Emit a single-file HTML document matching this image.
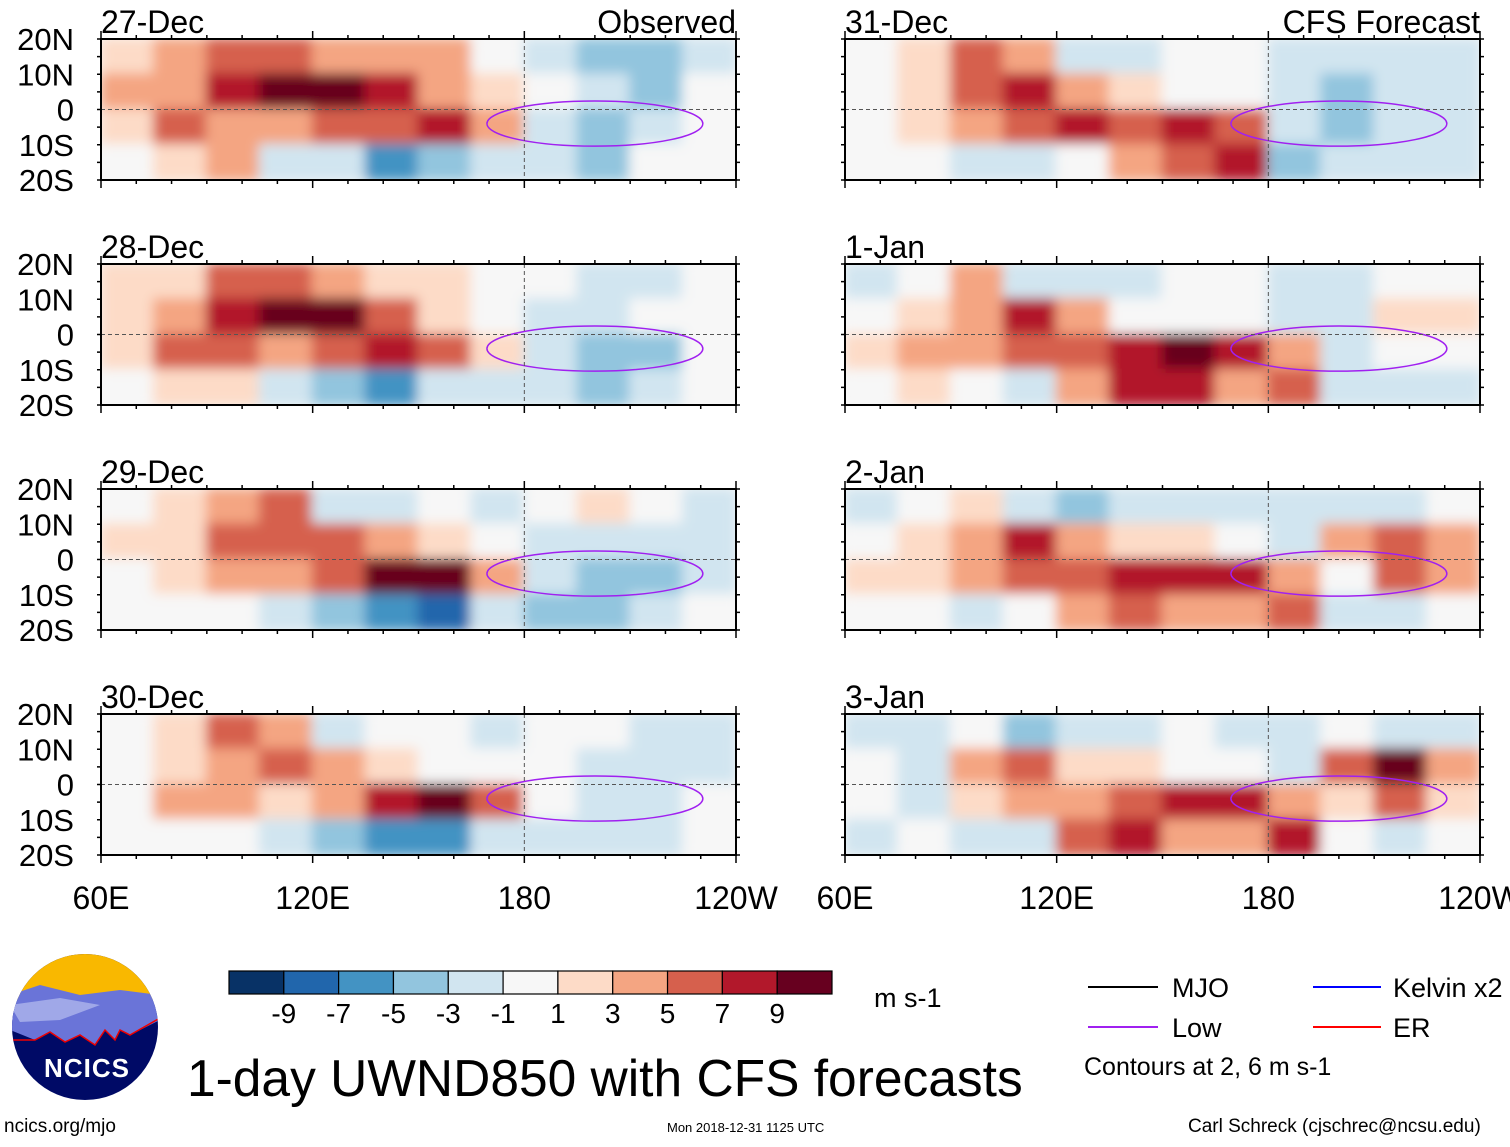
<!DOCTYPE html>
<html><head><meta charset="utf-8">
<style>
body{margin:0;background:#fff;width:1510px;height:1142px;overflow:hidden;font-family:"Liberation Sans",sans-serif}
svg text{font-family:"Liberation Sans",sans-serif}
</style></head>
<body>
<svg id="chart" width="1510" height="1142" viewBox="0 0 1510 1142" xmlns="http://www.w3.org/2000/svg">
<defs>
<filter id="blur" x="-5%" y="-20%" width="110%" height="140%"><feGaussianBlur stdDeviation="6"/></filter>
</defs>
<g id="panels"></g>
<g id="bottom"></g>
</svg>
<script>
const panelDates=["27-Dec","28-Dec","29-Dec","30-Dec","31-Dec","1-Jan","2-Jan","3-Jan"];
const panelCorner=["Observed","","","","CFS Forecast","","",""];
const latTicks=["20N","10N","0","10S","20S"];
const lonTicks=["60E","120E","180","120W"];
const lonCols=[67.5,82.5,97.5,112.5,127.5,142.5,157.5,172.5,187.5,202.5,217.5,232.5];
const latRows=[15,5,-5,-15];
const u27=[[2,3,5,6,4,4,3,-1,-2,-4,-4,-2],[3,4,8,10,10,7,3,1,-1,-3,-4,-1],[2,5,4,3,5,6,7,3,-2,-4,-3,-1],[-1,2,3,-2,-3,-6,-4,-2,-3,-4,-1,0]];
const u28=[[1,2,6,5,3,2,1,-1,-1,-3,-3,-1],[2,3,7,10,9,5,2,-1,-2,-3,-1,-1],[1,5,5,3,6,8,5,1,-3,-5,-4,-1],[0,2,2,-3,-5,-6,-2,-2,-3,-4,-3,-1]];
const u29=[[-1,1,3,5,-3,-2,-1,-3,-1,1,-1,-2],[1,2,5,6,5,3,1,-1,-2,-3,-3,-2],[-1,2,3,3,6,9,9,4,-2,-4,-4,-2],[-1,-1,0,-3,-5,-6,-9,-3,-4,-4,-3,-1]];
const u30=[[-1,1,5,4,-2,-1,-1,-2,-1,-1,-3,-3],[0,2,4,6,3,1,0,-1,-1,-3,-3,-2],[-1,3,3,2,4,8,9,5,-1,-3,-3,-1],[-1,-1,-1,-2,-5,-6,-7,-3,-2,-3,-3,-1]];
const u31=[[-1,2,5,4,-3,-3,-1,-1,-3,-3,-3,-2],[-1,2,6,8,4,1,0,-1,-3,-4,-3,-3],[-1,2,3,5,8,6,8,6,-2,-4,-3,-3],[-1,-1,-2,-3,-1,3,6,8,-4,-3,-3,-3]];
const u01=[[-3,-1,3,-3,-3,-2,-1,-1,-3,-3,-1,-1],[-1,1,4,8,3,0,-1,-1,-3,-3,1,2],[2,3,4,6,5,7,9,8,3,-3,-1,-1],[-1,1,-1,-3,3,7,7,4,5,-3,-2,-2]];
const u02=[[-3,-1,2,-3,-4,-3,-2,-3,-3,-3,-3,-1],[-1,1,4,8,3,1,1,-1,-3,3,6,3],[1,2,4,5,5,7,8,8,3,-1,5,3],[-1,-1,-2,-1,4,6,3,4,6,-3,-2,-1]];
const u03=[[-2,-2,0,-5,-3,-2,-1,-3,-3,-1,-3,-3],[-1,-3,3,6,2,1,0,-1,-2,6,10,3],[-1,-3,2,4,3,6,8,7,3,2,5,2],[-3,-1,-2,-2,5,7,4,3,7,-1,-3,-1]];
const grids=[u27,u28,u29,u30,u31,u01,u02,u03];
const cbLabels=["-9","-7","-5","-3","-1","1","3","5","7","9"];
const cbColors=["#083266","#2166ac","#4393c3","#92c5de","#d1e5f0","#f7f7f7","#fddbc7","#f4a582","#d6604d","#b2182b","#67001f"];

const NS="http://www.w3.org/2000/svg";
function mk(t,a,p){const e=document.createElementNS(NS,t);for(const k in a)e.setAttribute(k,a[k]);p.appendChild(e);return e;}
function color(v){let i=Math.floor((v+11)/2);if(v>=-1&&v<1)i=5;return cbColors[Math.max(0,Math.min(10,i))];}
const PW=635,PH=141;
const colX=[101,845],rowY=[39,264,489,714];
const panels=document.getElementById('panels');
grids.forEach((g,pi)=>{
  const x0=colX[pi<4?0:1],y0=rowY[pi%4];
  const lx=lon=>x0+(lon-60)/180*PW, ly=lat=>y0+(20-lat)/40*PH;
  const grp=mk('g',{},panels);
  
  
  const cid='clip'+pi;
  const cp=mk('clipPath',{id:cid},grp);mk('rect',{x:x0,y:y0,width:PW,height:PH},cp);
  const cg=mk('g',{'clip-path':'url(#'+cid+')'},grp);
  mk('rect',{x:x0,y:y0,width:PW,height:PH,fill:'#f7f7f7'},cg);
  const bg=mk('g',{filter:'url(#blur)'},cg);
  g.forEach((row,ri)=>row.forEach((v,ci)=>{
    const cx=lx(lonCols[ci]),cy=ly(latRows[ri]);
    const w=PW/12+2,h=PH/4+2;
    const r=mk('rect',{x:cx-w/2,y:cy-h/2,width:w,height:h,fill:color(v)},bg);
    
    
  }));
  const pe=mk('ellipse',{cx:lx(200),cy:ly(-4),rx:PW*0.17,ry:PH*0.16,fill:'none',stroke:'#a020f0','stroke-width':1.5},cg);
  
  
  mk('line',{x1:x0,x2:x0+PW,y1:ly(0),y2:ly(0),stroke:'#555','stroke-dasharray':'4,3','stroke-width':1},cg);
  mk('line',{x1:lx(180),x2:lx(180),y1:y0,y2:y0+PH,stroke:'#555','stroke-dasharray':'4,3','stroke-width':1},cg);
  mk('rect',{x:x0,y:y0,width:PW,height:PH,fill:'none',stroke:'#000','stroke-width':2},grp);
  for(let lon=60;lon<=240;lon+=10){const X=lx(lon),L=(lon%60==0)?8:4;
    mk('line',{x1:X,x2:X,y1:y0-L,y2:y0,stroke:'#000','stroke-width':1.5},grp);
    mk('line',{x1:X,x2:X,y1:y0+PH,y2:y0+PH+L,stroke:'#000','stroke-width':1.5},grp);}
  for(let lat=-20;lat<=20;lat+=5){const Y=ly(lat);
    mk('line',{x1:x0-4,x2:x0,y1:Y,y2:Y,stroke:'#000','stroke-width':1.5},grp);
    mk('line',{x1:x0+PW,x2:x0+PW+4,y1:Y,y2:Y,stroke:'#000','stroke-width':1.5},grp);}
  if(pi<4){latTicks.forEach((t,i)=>{const tx=mk('text',{x:x0-27,y:ly(20-i*10)+11,'font-size':31,'text-anchor':'end'},grp);tx.textContent=t;
    });}
  const tx=mk('text',{x:x0,y:y0-6,'font-size':32},grp);tx.textContent=panelDates[pi];
  if(panelCorner[pi]){const tc=mk('text',{x:x0+PW,y:y0-6,'font-size':32,'text-anchor':'end'},grp);tc.textContent=panelCorner[pi];}
  if(pi%4==3){lonTicks.forEach((t,i)=>{const tl=mk('text',{x:lx(60+i*60),y:y0+PH+54,'font-size':32,'text-anchor':'middle'},grp);tl.textContent=t;
    });}
});
const bot=document.getElementById('bottom');
const cb=mk('g',{},bot);
const cbw=603/11;
cbColors.forEach((c,i)=>mk('rect',{x:229+i*cbw,y:971,width:cbw,height:23,fill:c,stroke:'#000','stroke-width':1.2},cb));
cbLabels.forEach((t,i)=>{const tc=mk('text',{x:229+(i+1)*cbw,y:1023,'font-size':28,'text-anchor':'middle'},cb);tc.textContent=t;});
</script>
<svg style="position:absolute;left:0;top:0" width="1510" height="1142" xmlns="http://www.w3.org/2000/svg">
<g>
<clipPath id="lc"><circle cx="85" cy="1027" r="73"/></clipPath>
<g clip-path="url(#lc)">
<rect x="10" y="950" width="150" height="160" fill="#000a66"/>
<rect x="10" y="950" width="150" height="50" fill="#f9b800"/>
<path d="M10 995 L40 985 L80 995 L120 990 L160 995 L160 1020 L130 1035 L120 1030 L115 1040 L105 1030 L95 1045 L80 1035 L65 1042 L50 1032 L35 1040 L10 1030Z" fill="#6a74d8"/>
<path d="M10 1005 L60 998 L100 1005 L60 1020 L20 1022Z" fill="#a0a8e8"/>
<path d="M10 1040 L35 1040 L50 1032 L65 1042 L80 1035 L95 1045 L105 1030 L115 1040 L120 1030 L130 1035 L160 1018" fill="none" stroke="#e00" stroke-width="1.5"/>
</g>
<text x="87" y="1077" font-size="26" font-weight="bold" fill="#fff" text-anchor="middle" letter-spacing="1">NCICS</text>
</g>
<text x="4" y="1132" font-size="19">ncics.org/mjo</text>
<text x="874" y="1007" font-size="27">m s-1</text>
<text x="187" y="1096" font-size="51.5">1-day UWND850 with CFS forecasts</text>
<text x="667" y="1132" font-size="13">Mon 2018-12-31 1125 UTC</text>
<text x="1188" y="1132" font-size="19">Carl Schreck (cjschrec@ncsu.edu)</text>
<g>
<g><line x1="1088" x2="1158" y1="987" y2="987" stroke="#000" stroke-width="2"/><text x="1172" y="997" font-size="27">MJO</text></g>
<g><line x1="1313" x2="1381" y1="987" y2="987" stroke="#00f" stroke-width="2"/><text x="1393" y="997" font-size="27">Kelvin x2</text></g>
<g><line x1="1088" x2="1158" y1="1027" y2="1027" stroke="#a020f0" stroke-width="2"/><text x="1172" y="1037" font-size="27">Low</text></g>
<g><line x1="1313" x2="1381" y1="1027" y2="1027" stroke="#f00" stroke-width="2"/><text x="1393" y="1037" font-size="27">ER</text></g>
<text x="1084" y="1075" font-size="25">Contours at 2, 6 m s-1</text>
</g>
</svg>
</body></html>
